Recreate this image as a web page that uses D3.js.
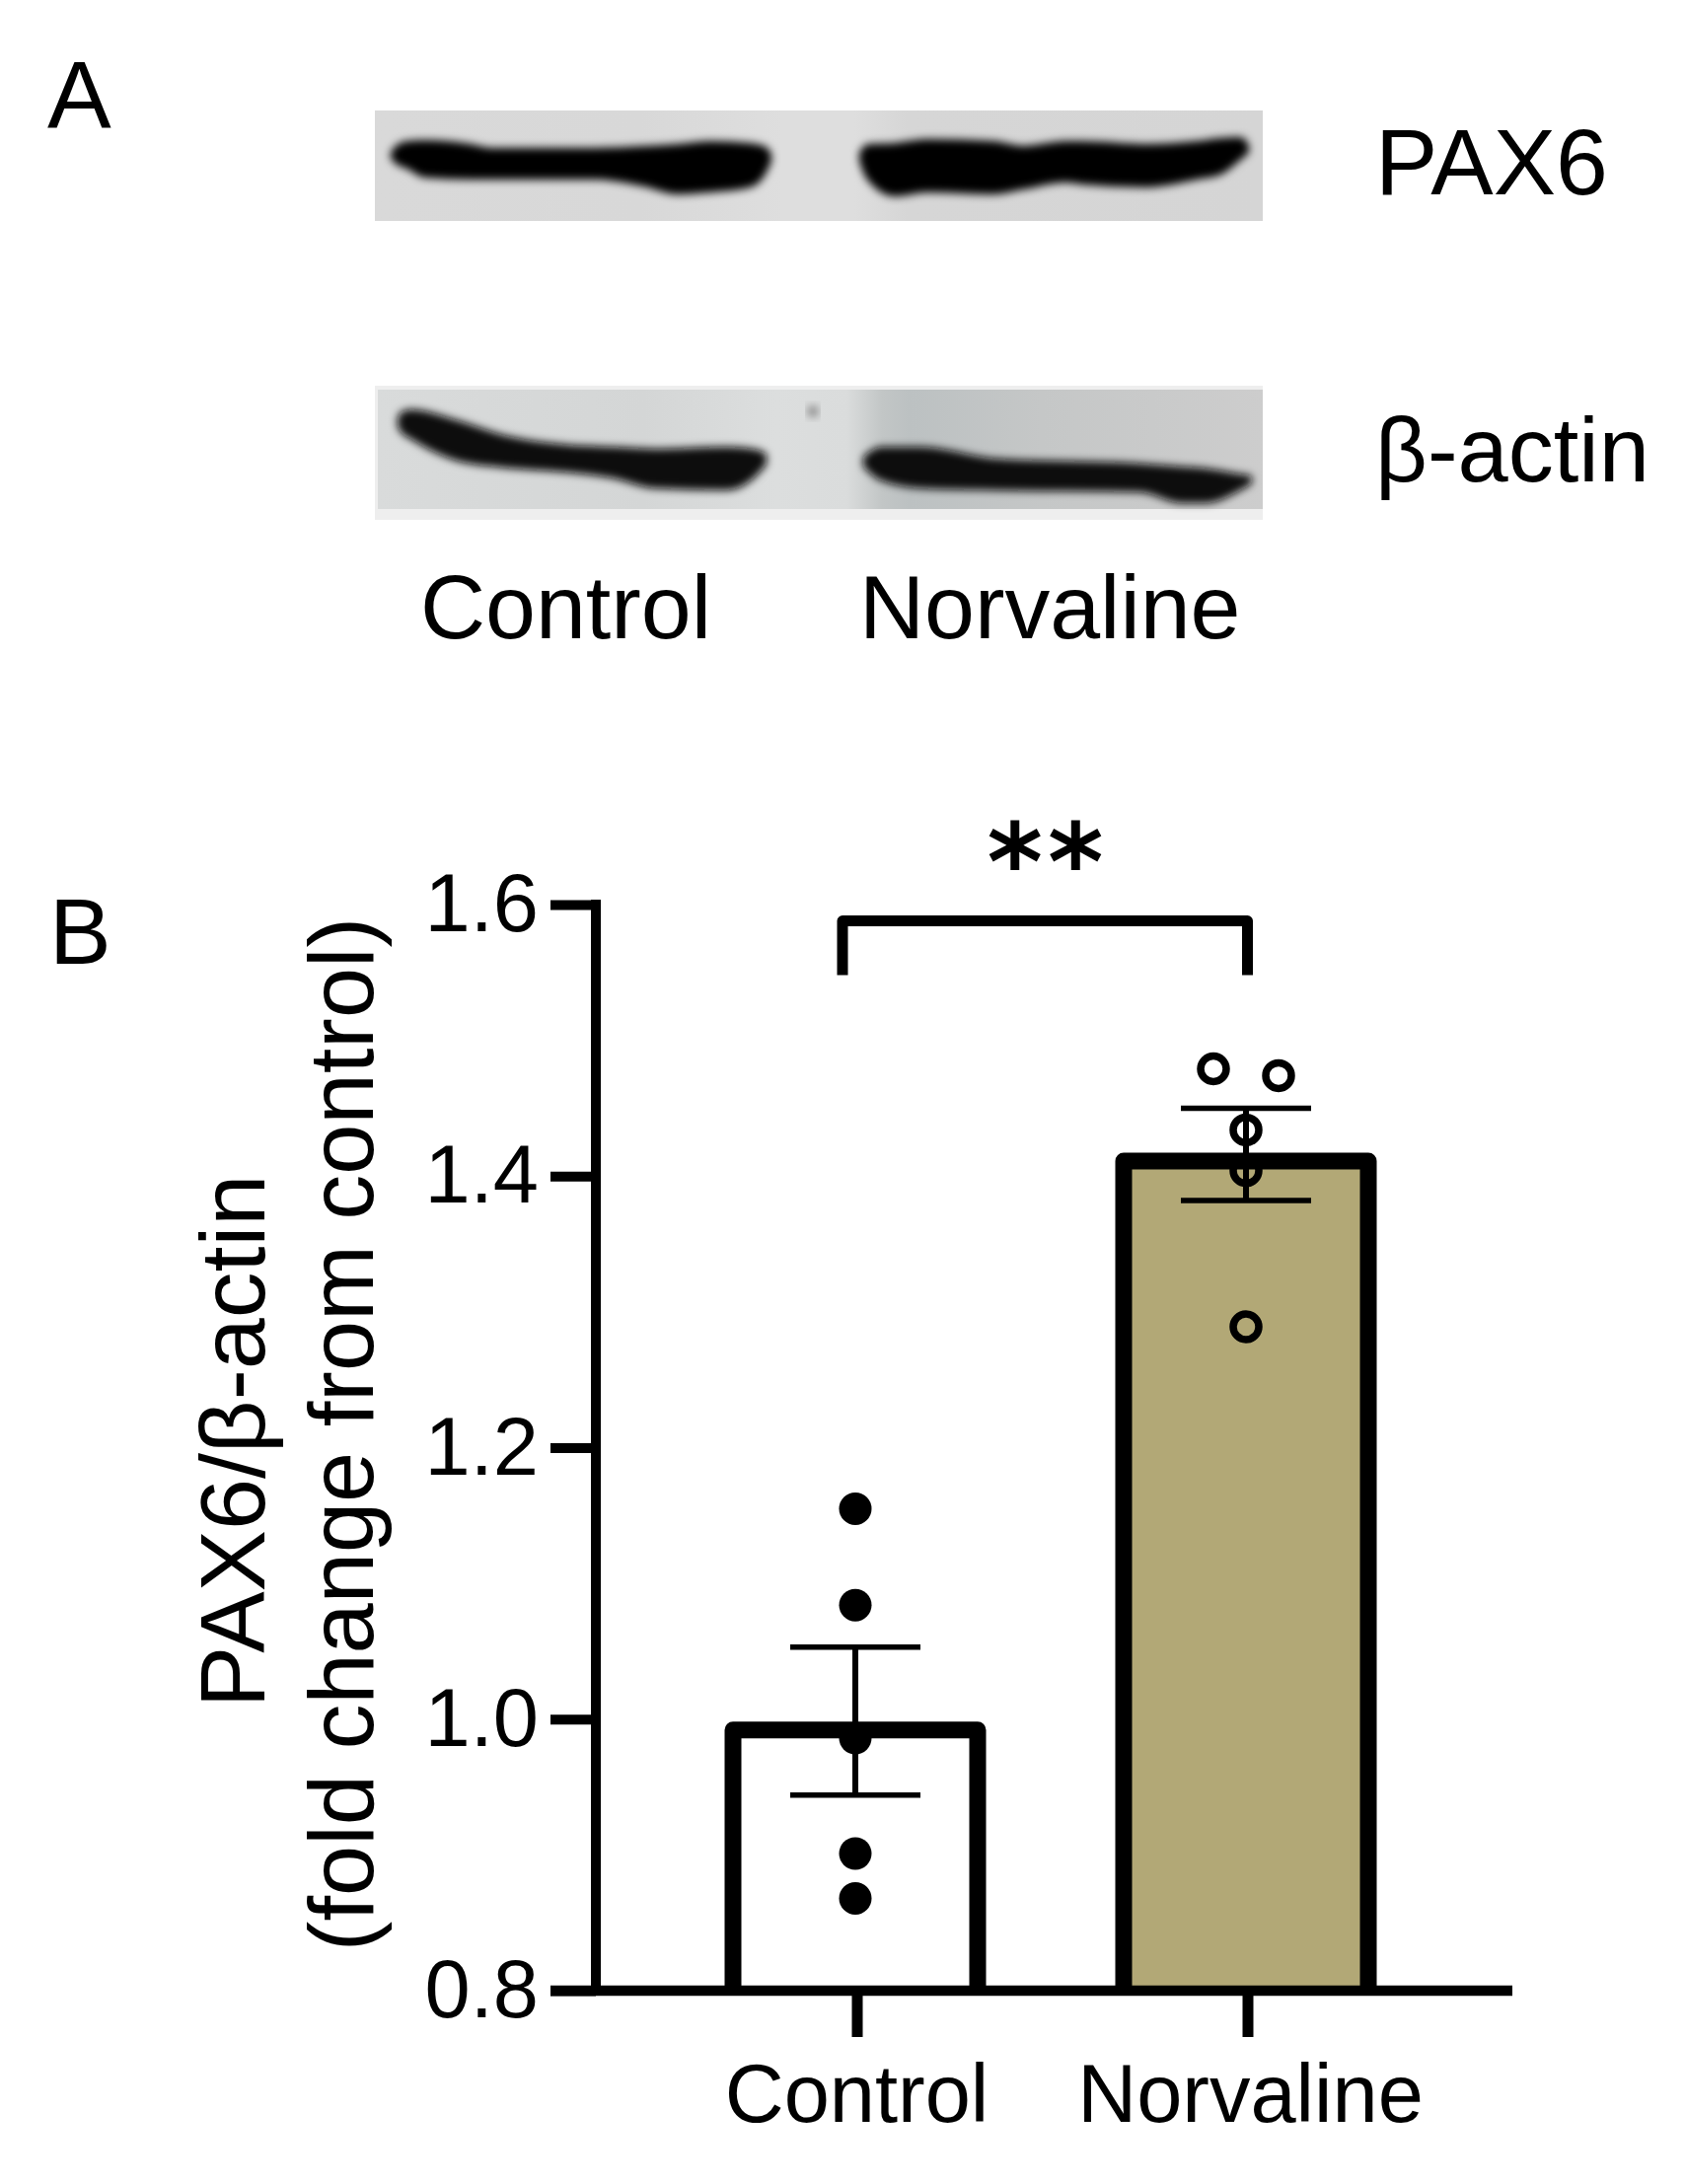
<!DOCTYPE html>
<html>
<head>
<meta charset="utf-8">
<script src="https://cdnjs.cloudflare.com/ajax/libs/d3/7.8.5/d3.min.js"></script>
<style>
html,body{margin:0;padding:0;background:#fff}
svg{display:block}
text{font-family:"Liberation Sans",Arial,sans-serif;fill:#000}
</style>
</head>
<body>
<div id="chart"></div>
<script>
// ---- Data ----
const categories = ["Control", "Norvaline"];
const yTicks = [0.8, 1.0, 1.2, 1.4, 1.6];
const means = [0.992, 1.411];
const errLow = [0.944, 1.382];
const errHigh = [1.053, 1.450];
const controlPoints = [1.155, 1.084, 0.986, 0.901, 0.868];
const norvalinePoints = [1.479, 1.474, 1.434, 1.404, 1.289];
const norvalineJitter = [-33, 33, 0, 0, 0];
const barFills = ["#ffffff", "#b2a876"];

// Western-blot band outlines: [x, top, bottom]
const bandPaxControl = [[398,155,160],[403,149,165],[413,145,169],[430,144,178],[477,148,180],[497,152,180],[603,152,180],[653,150,187],[687,148,195],[720,145,193],[760,147,188],[776,151,172],[780,157,163]];
const bandPaxNorvaline = [[873,155,163],[880,148,180],[907,147,197],[940,143,193],[1007,145,195],[1037,150,190],[1080,145,183],[1097,145,185],[1163,148,188],[1213,145,180],[1237,142,175],[1258,141,159],[1264,148,154]];
const bandActinControl = [[405,424,432],[408,419,437],[417,417,443],[463,428,465],[510,443,472],[577,453,477],[623,455,483],[663,457,493],[737,455,495],[763,457,483],[775,461,470]];
const bandActinNorvaline = [[877,464,472],[882,460,477],[893,455,485],[933,455,493],[1010,467,495],[1157,472,497],[1197,475,508],[1223,477,508],[1253,482,497],[1267,484,489]];

const width = 1708, height = 2214;
const svg = d3.select("#chart").append("svg").attr("width", width).attr("height", height);
const defs = svg.append("defs");
defs.append("filter").attr("id","blur").attr("x","-10%").attr("y","-40%").attr("width","120%").attr("height","180%")
  .append("feGaussianBlur").attr("stdDeviation","4.2");

function grad(id, stops){
  const g = defs.append("linearGradient").attr("id",id);
  stops.forEach(s=>g.append("stop").attr("offset",s[0]).attr("stop-color",s[1]));
}
grad("gelTop",[[0,"#d9d9d9"],[0.3,"#d8d8d8"],[0.46,"#dedede"],[0.54,"#dedede"],[0.6,"#d6d6d6"],[1,"#d5d5d5"]]);
grad("gelBottom",[[0,"#d9dbdb"],[0.3,"#d4d6d6"],[0.45,"#dcdede"],[0.53,"#dadcdc"],[0.57,"#c2c6c6"],[0.6,"#bcc1c2"],[0.75,"#c5c7c7"],[1,"#cdcdcd"]]);

// ---- Panel A ----
const bx = d3.scaleIdentity(), by = d3.scaleIdentity();
const bandArea = d3.area().x(d=>bx(d[0])).y0(d=>by(d[1])).y1(d=>by(d[2])).curve(d3.curveMonotoneX);

const gelA = svg.append("g");
gelA.append("rect").attr("x",380).attr("y",112).attr("width",900).attr("height",112).attr("fill","url(#gelTop)");
gelA.append("rect").attr("x",380).attr("y",391).attr("width",900).attr("height",136).attr("fill","#eeeeee");
gelA.append("rect").attr("x",383).attr("y",395).attr("width",897).attr("height",121).attr("fill","url(#gelBottom)");
gelA.append("ellipse").attr("cx",824).attr("cy",417).attr("rx",6).attr("ry",6).attr("fill","#8c8c8c").attr("filter","url(#blur)");
[[bandPaxControl,"#000"],[bandPaxNorvaline,"#000"],[bandActinControl,"#0a0a0a"],[bandActinNorvaline,"#111111"]].forEach(b=>{
  gelA.append("path").attr("d",bandArea(b[0])).attr("fill",b[1]).attr("stroke",b[1]).attr("stroke-width",4).attr("stroke-linejoin","round").attr("filter","url(#blur)");
});

svg.append("text").attr("x",48).attr("y",129).attr("font-size",97).text("A");
svg.append("text").attr("x",1394).attr("y",197).attr("font-size",95).text("PAX6");
svg.append("text").attr("x",1394).attr("y",488).attr("font-size",92).text("β-actin");
svg.append("text").attr("x",426).attr("y",647).attr("font-size",91.5).text(categories[0]);
svg.append("text").attr("x",871).attr("y",647).attr("font-size",91.5).text(categories[1]);

// ---- Panel B ----
svg.append("text").attr("x",50).attr("y",977).attr("font-size",94).text("B");

const y = d3.scaleLinear().domain([0.8,1.6]).range([2018,917]);
const x = d3.scalePoint().domain(categories).range([867,1263]);
const barHalf = 124;

// bars
svg.append("g").selectAll("path").data(categories).join("path")
  .attr("d",(d,i)=>`M${x(d)-barHalf},${y(0.8)}V${y(means[i])}H${x(d)+barHalf}V${y(0.8)}`)
  .attr("fill",(d,i)=>barFills[i]).attr("stroke","#000").attr("stroke-width",17).attr("stroke-linejoin","round");

// y axis
const yAxis = d3.axisLeft(y).tickValues(yTicks).tickFormat(d3.format(".1f")).tickSize(46).tickPadding(12);
const gy = svg.append("g").attr("transform","translate(604,0)").call(yAxis);
gy.select(".domain").attr("stroke","#000").attr("stroke-width",10).attr("d",`M0,${y(1.6)-5}V${y(0.8)}`);
gy.selectAll(".tick line").attr("stroke","#000").attr("stroke-width",10);
gy.selectAll(".tick text").attr("font-size",83).attr("font-family",'"Liberation Sans",Arial,sans-serif').attr("fill","#000");

// x axis
const xAxis = d3.axisBottom(x).tickSize(47).tickPadding(10);
const gx = svg.append("g").attr("transform",`translate(0,${y(0.8)})`).call(xAxis);
gx.select(".domain").attr("stroke","#000").attr("stroke-width",10.5).attr("d","M558,0H1533");
gx.selectAll(".tick line").attr("stroke","#000").attr("stroke-width",11).attr("transform","translate(1.5,0)");
gx.selectAll(".tick text").attr("font-size",83).attr("font-family",'"Liberation Sans",Arial,sans-serif').attr("fill","#000")
  .attr("text-anchor","middle").attr("dx",1).attr("y",null).attr("dy",null)
  .attr("transform","translate(0,133)");
gx.selectAll(".tick text").filter(d=>d==="Norvaline").attr("dx",4);

// error bars
const capHalf = 66;
const err = svg.append("g").attr("stroke","#000");
categories.forEach((c,i)=>{
  err.append("line").attr("x1",x(c)).attr("x2",x(c)).attr("y1",y(errLow[i])).attr("y2",y(errHigh[i])).attr("stroke-width",6);
  [errLow[i],errHigh[i]].forEach(v=>{
    err.append("line").attr("x1",x(c)-capHalf).attr("x2",x(c)+capHalf).attr("y1",y(v)).attr("y2",y(v)).attr("stroke-width",5.5);
  });
});

// points
svg.append("g").selectAll("circle").data(controlPoints).join("circle")
  .attr("cx",x("Control")).attr("cy",d=>y(d)).attr("r",16.5).attr("fill","#000");
svg.append("g").selectAll("circle").data(norvalinePoints).join("circle")
  .attr("cx",(d,i)=>x("Norvaline")+norvalineJitter[i]).attr("cy",d=>y(d)).attr("r",13)
  .attr("fill","none").attr("stroke","#000").attr("stroke-width",7.5);

// significance bracket
const bracketY = y(1.588), bracketDrop = y(1.548);
svg.append("path")
  .attr("d",`M${x("Control")-13},${bracketDrop}V${bracketY}H${x("Norvaline")+1.5}V${bracketDrop}`)
  .attr("fill","none").attr("stroke","#000").attr("stroke-width",11).attr("stroke-linejoin","round");
svg.append("text").attr("x",1062).attr("y",912).attr("text-anchor","middle")
  .attr("font-size",108).attr("font-weight","bold").attr("letter-spacing",5).style("font-family",'"DejaVu Sans"').text("**");

// y title
svg.append("text").attr("transform","translate(268,1461) rotate(-90)").attr("text-anchor","middle").attr("font-size",93.5).text("PAX6/β-actin");
svg.append("text").attr("transform","translate(378,1454) rotate(-90)").attr("text-anchor","middle").attr("font-size",92).text("(fold change from control)");
</script>
</body>
</html>
